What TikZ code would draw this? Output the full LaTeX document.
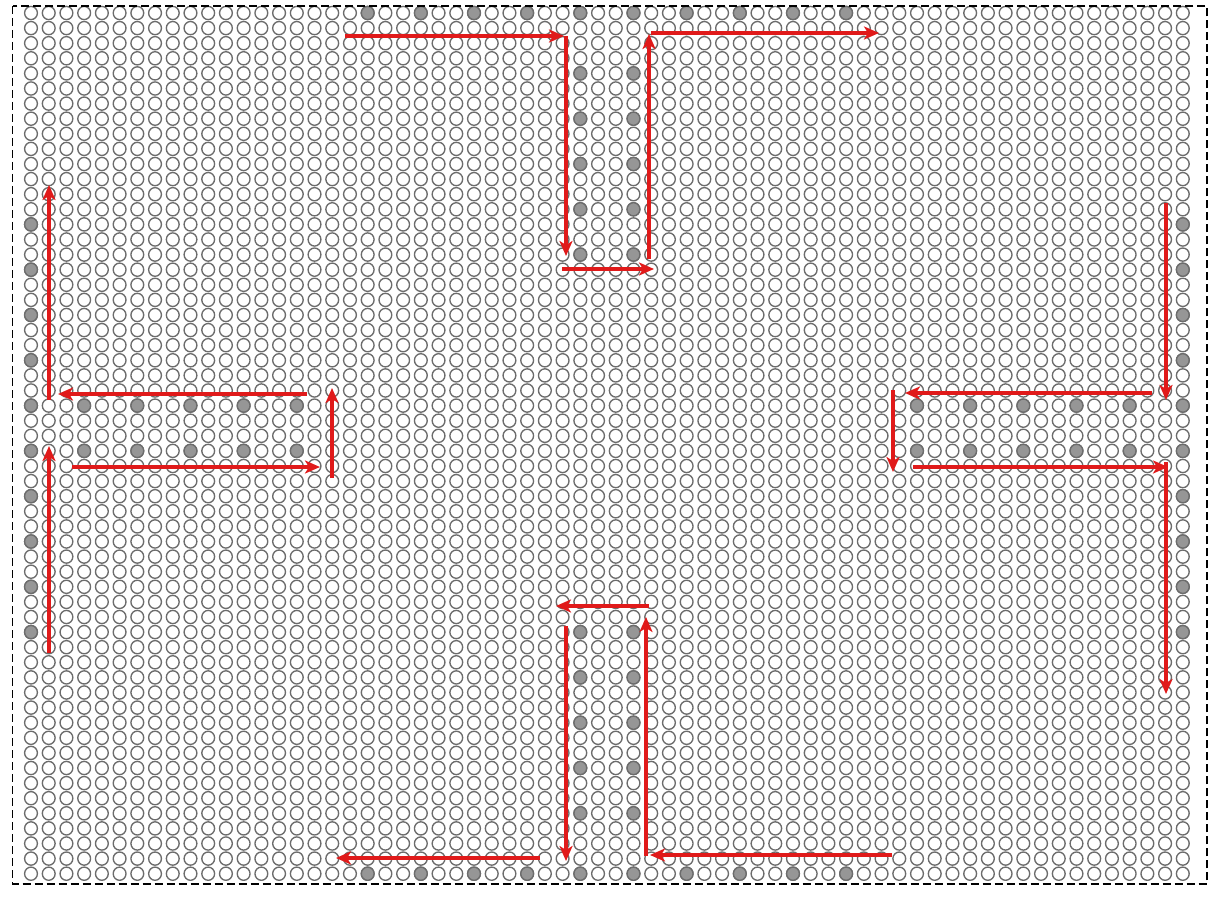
\documentclass[tikz,border=0pt]{standalone}
\usetikzlibrary{arrows.meta}
\definecolor{circline}{RGB}{108,108,108}
\definecolor{dotfill}{RGB}{150,150,150}
\definecolor{arrred}{RGB}{224,26,26}
\begin{document}
\begin{tikzpicture}[x=1pt,y=-1pt,
  circ/.style={draw=circline,line width=1.35pt},
  dot/.style={draw=circline,fill=dotfill,line width=1.35pt},
  arr/.style={draw=arrred,line width=3.2pt,-{Stealth[length=15pt,width=13pt,inset=4pt]}}]
\useasboundingbox (0,0) rectangle (1226,901);
\fill[white] (0,0) rectangle (1226,901);
% grid of sensor circles (66 columns x 58 rows)
\foreach \c in {0,...,65}{
  \foreach \r in {0,...,57}{
    \draw[circ] ({31+\c*17.72},{13+\r*15.1}) ellipse[x radius=6.4pt,y radius=6.6pt];
  }
}
% top and bottom rows of active sensors
\foreach \c in {19,22,...,46}{
  \draw[dot] ({31+\c*17.72},{13+0*15.1}) ellipse[x radius=6.4pt,y radius=6.6pt];
  \draw[dot] ({31+\c*17.72},{13+57*15.1}) ellipse[x radius=6.4pt,y radius=6.6pt];
}
\foreach \r in {4,7,10,13,16,41,44,47,50,53}{
  \draw[dot] ({31+31*17.72},{13+\r*15.1}) ellipse[x radius=6.4pt,y radius=6.6pt];
  \draw[dot] ({31+34*17.72},{13+\r*15.1}) ellipse[x radius=6.4pt,y radius=6.6pt];
}
% left and right columns
\foreach \r in {14,17,...,41}{
  \draw[dot] ({31+0*17.72},{13+\r*15.1}) ellipse[x radius=6.4pt,y radius=6.6pt];
  \draw[dot] ({31+65*17.72},{13+\r*15.1}) ellipse[x radius=6.4pt,y radius=6.6pt];
}
\foreach \c in {3,6,9,12,15,50,53,56,59,62}{
  \draw[dot] ({31+\c*17.72},{13+26*15.1}) ellipse[x radius=6.4pt,y radius=6.6pt];
  \draw[dot] ({31+\c*17.72},{13+29*15.1}) ellipse[x radius=6.4pt,y radius=6.6pt];
}
% border
\draw[black,line width=1.3pt,dash pattern=on 8pt off 4pt] (12.7,6) rectangle (1207,884);
% top arrows
\draw[arr] (345,36) -- (564,36);
\draw[arr] (566,36) -- (566,256);
\draw[arr] (562,269) -- (654,269);
\draw[arr] (649,259) -- (649,34);
\draw[arr] (651,33) -- (879,33);
% left arrows
\draw[arr] (49,400) -- (49,185);
\draw[arr] (307,394) -- (58,394);
\draw[arr] (332,478) -- (332,388);
\draw[arr] (72,467) -- (320,467);
\draw[arr] (49,653) -- (49,446);
% right arrows
\draw[arr] (1166,203) -- (1166,400);
\draw[arr] (1152,393) -- (905,393);
\draw[arr] (893,390) -- (893,472);
\draw[arr] (913,467) -- (1168,467);
\draw[arr] (1166,462) -- (1166,694);
% bottom arrows
\draw[arr] (649,606) -- (556,606);
\draw[arr] (566,626) -- (566,861);
\draw[arr] (646,856) -- (646,617);
\draw[arr] (540,858) -- (336,858);
\draw[arr] (892,855) -- (650,855);
\end{tikzpicture}
\end{document}
